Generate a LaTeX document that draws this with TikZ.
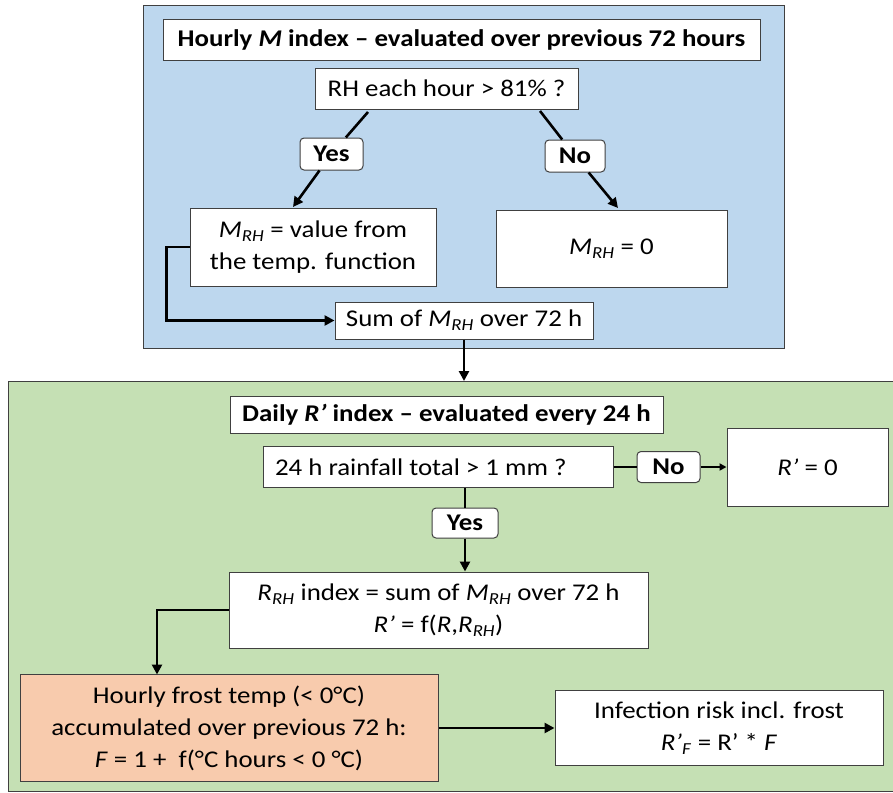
\documentclass[tikz,border=0pt]{standalone}
\usepackage{fontspec}
\setmainfont{Carlito}[FakeStretch=1.12]
\usetikzlibrary{arrows.meta}
\definecolor{bluebg}{HTML}{BDD7EE}
\definecolor{greenbg}{HTML}{C5E0B4}
\definecolor{orangebg}{HTML}{F8CBAD}
\definecolor{edge}{HTML}{404040}
\tikzset{
  box/.style={draw=edge, line width=1pt, fill=white, inner sep=2pt, align=center, font=\fontsize{24}{32}\selectfont},
  tag/.style={draw=edge, line width=1pt, fill=white, rounded corners=4pt, inner sep=0pt, font=\bfseries\fontsize{24}{28}\selectfont},
  conn/.style={line width=2.6pt, black},
  arr/.style={conn, -{Triangle[length=10pt,width=10pt]}},
  sarr/.style={conn, -{Triangle[length=7pt,width=7pt]}},
}
\begin{document}
\begin{tikzpicture}[x=1pt,y=-1pt]
\useasboundingbox (0,0) rectangle (893,792);
% panels
\node[draw=edge, line width=1pt, fill=bluebg, minimum width=641pt, minimum height=342pt, inner sep=0pt] (blue) at (463.5,177) {};
\node[draw=edge, line width=1pt, fill=greenbg, minimum width=886pt, minimum height=410pt, inner sep=0pt] (green) at (451,586) {};
% upper boxes
\node[box, minimum width=597pt, minimum height=40pt, font=\bfseries\fontsize{24}{32}\selectfont] (t1) at (461.5,40) {Hourly \textit{M} index – evaluated over previous 72 hours};
\node[box, minimum width=263pt, minimum height=41pt] (rh) at (446.5,88.5) {RH each hour > 81\% ?};
\node[box, minimum width=246pt, minimum height=78pt] (mval) at (313,247) {\textit{M}\textsubscript{\textit{RH}} = value from\\the temp. function};
\node[box, minimum width=231pt, minimum height=77pt] (mzero) at (611.5,248.5) {\textit{M}\textsubscript{\textit{RH}} = 0};
\node[box, minimum width=258pt, minimum height=37pt] (sum) at (464,320.5) {Sum of \textit{M}\textsubscript{\textit{RH}} over 72 h};
\node[tag, minimum width=63pt, minimum height=32pt] (yes1) at (331.5,154) {Yes};
\node[tag, minimum width=60pt, minimum height=32pt] (no1) at (575,156) {No};
\coordinate (p1) at (368,112);
\coordinate (p2) at (293,207);
\coordinate (p3) at (540,111);
\coordinate (p4) at (618,208);
\draw[conn] (p1) -- (yes1);
\draw[arr] (yes1) -- (p2);
\draw[conn] (p3) -- (no1);
\draw[arr] (no1) -- (p4);
\draw[arr] (mval.west) -- ++(-23,0) |- (sum.west);
\coordinate (gtop) at (464,381);
\draw[arr] (sum.south) -- (gtop);
% lower boxes
\node[box, minimum width=433pt, minimum height=37pt, font=\bfseries\fontsize{24}{32}\selectfont] (t2) at (446.5,414.5) {Daily \textit{R’} index – evaluated every 24 h};
\node[box, minimum width=350pt, minimum height=41pt] (rain) at (438,467) {\makebox[326pt][l]{24 h rainfall total > 1 mm ?}};
\node[box, minimum width=161pt, minimum height=78pt] (rzero) at (807.5,467) {\textit{R’} = 0};
\node[box, minimum width=419pt, minimum height=76pt] (rrh) at (438.5,610) {\textit{R}\textsubscript{\textit{RH}} index = sum of \textit{M}\textsubscript{\textit{RH}} over 72 h\\\textit{R’} = f(\textit{R},\textit{R}\textsubscript{\textit{RH}})};
\node[box, fill=orangebg, minimum width=418pt, minimum height=107pt] (frost) at (229,728) {Hourly frost temp (< 0°C)\\accumulated over previous 72 h:\\\textit{F} = 1 +\ \ f(°C hours < 0 °C)};
\node[box, minimum width=328pt, minimum height=75pt] (inf) at (719,728) {Infection risk incl. frost\\\textit{R’}\textsubscript{\textit{F}} = R’ * \textit{F}};
\node[tag, minimum width=66pt, minimum height=30pt] (yes2) at (465,523) {Yes};
\node[tag, minimum width=63pt, minimum height=31pt] (no2) at (668.5,467) {No};
\draw[conn] (rain.east) -- (no2);
\draw[sarr] (no2) -- (rzero.west);
\draw[conn] (yes2 |- rain.south) -- (yes2);
\draw[arr] (yes2) -- (yes2 |- rrh.north);
\coordinate (fk) at (157,674.5);
\draw[arr] (rrh.west) -| (fk);
\draw[arr] (frost.east) -- (inf.west);
\end{tikzpicture}
\end{document}
